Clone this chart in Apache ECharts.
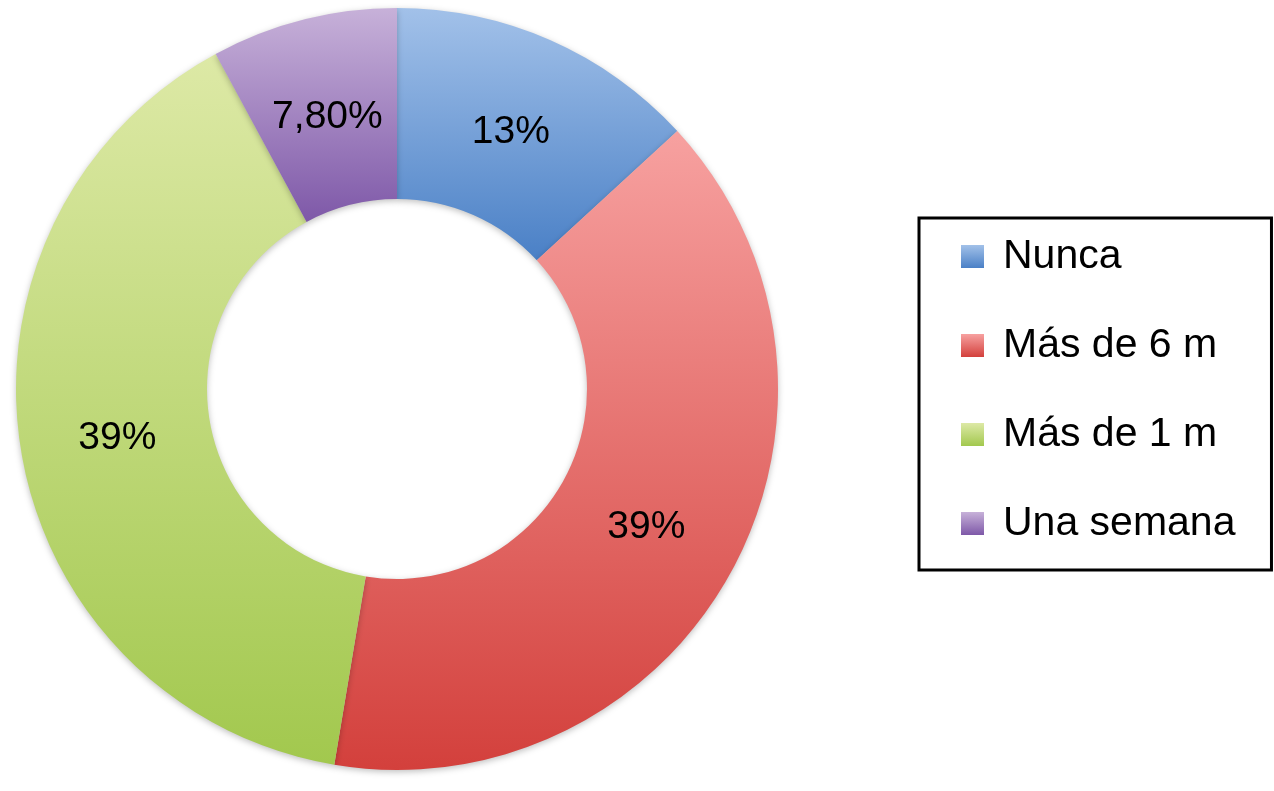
<!DOCTYPE html>
<html>
<head>
<meta charset="utf-8">
<script src="https://cdn.jsdelivr.net/npm/echarts@6/dist/echarts.min.js"></script>
<style>
  html, body { margin: 0; padding: 0; background: #fff; }
  #chart { width: 1274px; height: 791px; }
</style>
</head>
<body>
<div id="chart"></div>
<script>
  // datos del gráfico
  var categories = ['Nunca', 'Más de 6 m', 'Más de 1 m', 'Una semana'];
  var values = [13, 39, 39, 7.8];
  var valueLabels = ['13%', '39%', '39%', '7,80%'];
  // degradado de cada sector: arriba claro, abajo oscuro
  var topColors = ['#a2c1e9', '#f7a1a0', '#dde9a6', '#c7b1d9'];
  var bottomColors = ['#4a80c6', '#d3403c', '#a2c84e', '#7e58a8'];

  var font = '"Liberation Sans", Helvetica, Arial, sans-serif';

  function grad(i) {
    return new echarts.graphic.LinearGradient(0, 0, 0, 1, [
      { offset: 0, color: topColors[i] },
      { offset: 1, color: bottomColors[i] }
    ]);
  }

  // las etiquetas van un poco más hacia dentro que el radio medio
  var total = values.reduce(function (a, b) { return a + b; }, 0);
  var acc = 0;
  var labelOffsets = values.map(function (v) {
    var a = (acc + v / 2) / total * 2 * Math.PI;
    acc += v;
    return [-5 * Math.sin(a), 5 * Math.cos(a) + 3];
  });

  var chart = echarts.init(document.getElementById('chart'));
  chart.setOption({
    animation: false,
    legend: {
      orient: 'vertical',
      left: 919,
      top: 218,
      padding: [18, 36, 26, 42],
      borderColor: '#000',
      borderWidth: 3,
      itemWidth: 23,
      itemHeight: 23,
      itemGap: 48,
      icon: 'rect',
      textStyle: {
        fontSize: 41,
        lineHeight: 40,
        fontFamily: font,
        color: '#000',
        padding: [0, 0, 0, 14]
      },
      data: categories
    },
    series: [{
      type: 'pie',
      center: [397, 389],
      radius: [190, 381],
      startAngle: 90,
      clockwise: true,
      label: {
        show: true,
        position: 'inside',
        fontSize: 39,
        fontFamily: font,
        color: '#000',
        formatter: function (p) { return valueLabels[p.dataIndex]; }
      },
      labelLine: { show: false },
      emphasis: { disabled: true },
      itemStyle: {
        shadowBlur: 6,
        shadowColor: 'rgba(0,0,0,0.25)',
        shadowOffsetY: 2
      },
      data: categories.map(function (c, i) {
        return {
          name: c,
          value: values[i],
          itemStyle: { color: grad(i) },
          label: { offset: labelOffsets[i] }
        };
      })
    }]
  });
</script>
</body>
</html>
